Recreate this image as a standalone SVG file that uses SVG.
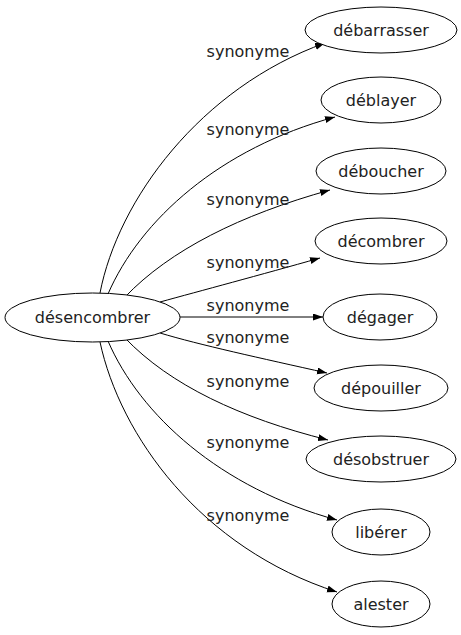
<svg xmlns="http://www.w3.org/2000/svg" width="461" height="635" viewBox="0 0 461 635">
<style>
.n ellipse{fill:#fff;stroke:#000;stroke-width:1}
.n text{font-family:"DejaVu Sans",sans-serif;font-size:16px;fill:#222;text-anchor:middle}
.e path{fill:none;stroke:#000;stroke-width:1;marker-end:url(#ah)}
.lb text{font-family:"DejaVu Sans",sans-serif;font-size:16px;fill:#222;text-anchor:middle}
</style>
<defs>
<marker id="ah" markerUnits="userSpaceOnUse" markerWidth="12" markerHeight="10" refX="10" refY="3.5" orient="auto">
<path d="M0,0 L10,3.5 L0,7 Z" fill="#000"/>
</marker>
</defs>
<rect width="461" height="635" fill="#fff"/>
<g id="edges" class="e">
<path d="M100,293 C118,200 200,88 325,43"/>
<path d="M108,294 C140,220 220,148 335,117"/>
<path d="M125,297 C170,250 240,215 330,190"/>
<path d="M160,302 C200,291 260,275 320,258"/>
<path d="M180,317 L323,317"/>
<path d="M160,333 C200,345 260,358 327,373"/>
<path d="M125,338 C170,385 240,418 328,440"/>
<path d="M108,341 C140,415 220,488 337,520"/>
<path d="M100,342 C120,435 200,548 337,592"/>
</g>
<g id="labels" class="lb">
<text x="248" y="57">synonyme</text>
<text x="248" y="135">synonyme</text>
<text x="248" y="205">synonyme</text>
<text x="248" y="268">synonyme</text>
<text x="248" y="311">synonyme</text>
<text x="248" y="343">synonyme</text>
<text x="248" y="387">synonyme</text>
<text x="248" y="448">synonyme</text>
<text x="248" y="521">synonyme</text>
</g>
<g id="n0" class="n"><ellipse cx="92.5" cy="317.5" rx="87.5" ry="24.5"/><text x="92.5" y="323">désencombrer</text></g>
<g id="n1" class="n"><ellipse cx="381" cy="30" rx="76" ry="23"/><text x="381" y="36">débarrasser</text></g>
<g id="n2" class="n"><ellipse cx="381" cy="100" rx="60" ry="23"/><text x="381" y="106">déblayer</text></g>
<g id="n3" class="n"><ellipse cx="381" cy="171" rx="65" ry="23"/><text x="381" y="177">déboucher</text></g>
<g id="n4" class="n"><ellipse cx="381" cy="241" rx="66" ry="23"/><text x="381" y="247">décombrer</text></g>
<g id="n5" class="n"><ellipse cx="380" cy="317" rx="57" ry="23"/><text x="380" y="323">dégager</text></g>
<g id="n6" class="n"><ellipse cx="381" cy="388" rx="67" ry="23"/><text x="381" y="394">dépouiller</text></g>
<g id="n7" class="n"><ellipse cx="381" cy="459" rx="75" ry="23"/><text x="381" y="465">désobstruer</text></g>
<g id="n8" class="n"><ellipse cx="381" cy="532" rx="49" ry="23"/><text x="381" y="538">libérer</text></g>
<g id="n9" class="n"><ellipse cx="381" cy="604" rx="49" ry="23"/><text x="381" y="610">alester</text></g>
</svg>
